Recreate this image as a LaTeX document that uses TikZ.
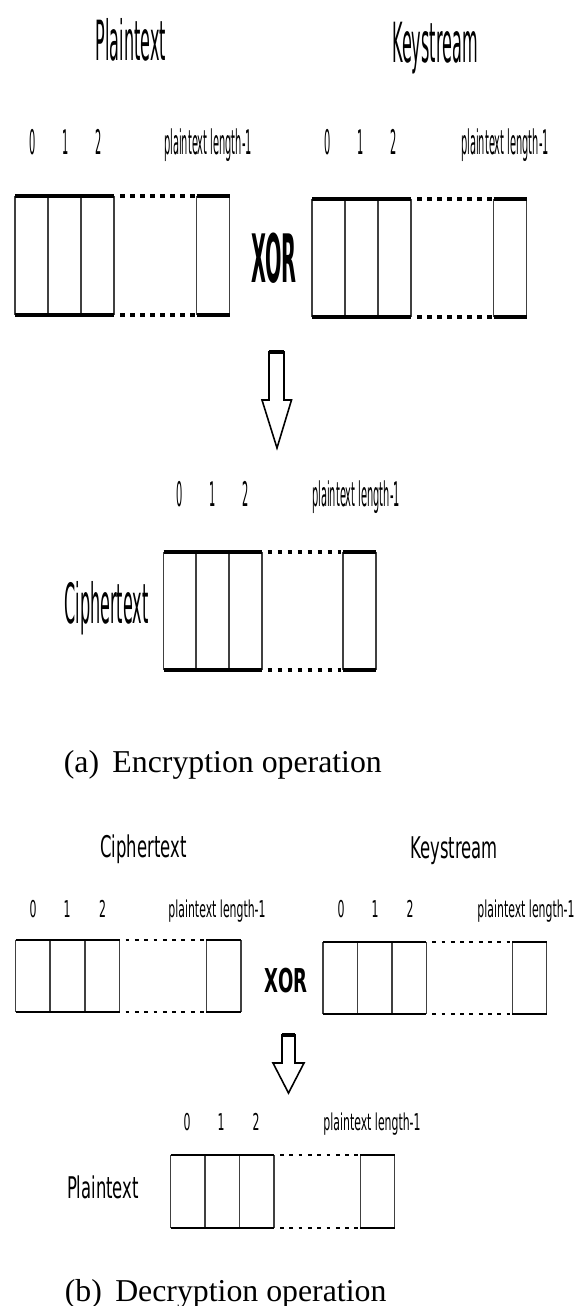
\documentclass[tikz,border=0pt]{standalone}
\usepackage{fontspec}
\newfontfamily\sqA[FakeStretch=0.29]{DejaVu Sans}
\newfontfamily\sqB[FakeStretch=0.55]{DejaVu Sans}
\newfontfamily\sqC[FakeStretch=0.47]{DejaVu Sans}
\newfontfamily\capfont{Liberation Serif}
\usetikzlibrary{positioning}

% #1 left x, #2 top y, #3 cell width, #4 height, #5 A or B (line set)
\newcommand{\bytearray}[5]{%
  \foreach \k in {0,1,2,3,5.5,6.5}
    \draw[cell#5] ({#1+\k*#3},#2) -- ++(0,#4);
  \draw[rim#5] (#1,#2) -- ++({3*#3},0) (#1,{#2+#4}) -- ++({3*#3},0)
    ({#1+5.5*#3},#2) -- ++(#3,0) ({#1+5.5*#3},{#2+#4}) -- ++(#3,0);
  \draw[dot#5] ({#1+3*#3+6},#2) -- ({#1+5.5*#3-2},#2)
    ({#1+3*#3+6},{#2+#4}) -- ({#1+5.5*#3-2},{#2+#4});
}

\begin{document}
\begin{tikzpicture}[
  x=0.02cm, y=-0.02cm,
  ttlA/.style={font=\sqA\fontsize{31.5}{36}\selectfont, inner sep=0pt, anchor=base},
  idxA/.style={font=\sqA\fontsize{19.3}{22}\selectfont, inner sep=0pt, anchor=base},
  xorA/.style={font=\sqA\bfseries\fontsize{38}{42}\selectfont, inner sep=0pt, anchor=base},
  ttlB/.style={font=\sqB\fontsize{17}{20}\selectfont, inner sep=0pt, anchor=base},
  idxB/.style={font=\sqC\fontsize{13.2}{15}\selectfont, inner sep=0pt, anchor=base},
  xorB/.style={font=\sqB\bfseries\fontsize{18.7}{21}\selectfont, inner sep=0pt, anchor=base},
  subcap/.style={font=\capfont\fontsize{18.1}{21}\selectfont, inner sep=0pt, anchor=base west},
  cellA/.style={draw=black!75, line width=1.1pt},
  rimA/.style={line width=2.5pt},
  dotA/.style={line width=2.7pt, dash pattern=on 2.6pt off 3.1pt},
  cellB/.style={draw=black!75, line width=0.8pt},
  rimB/.style={line width=1.5pt},
  dotB/.style={line width=1.6pt, dash pattern=on 2.2pt off 3.1pt},
  blk/.style={draw, line width=0.9pt, line join=miter}
]
\useasboundingbox (0,0) rectangle (576,1306);

% (a) encryption
\node[ttlA] (ptA) at (131,60) {Plaintext};
\node[ttlA] (ksA) at (435,62) {Keystream};
\foreach \t/\x in {0/32.5,1/66,2/99}
  \node[idxA] (pa\t) at (\x,154) {\t};
\node[idxA] (paEnd) at (208,154) {plaintext length-1};
\foreach \t/\x in {0/328,1/361,2/394}
  \node[idxA] (ka\t) at (\x,154) {\t};
\node[idxA] (kaEnd) at (505,154) {plaintext length-1};
\bytearray{15}{196}{33}{119}{A}
\bytearray{312}{199}{33}{118}{A}
\node[xorA] (xorA) at (274,282) {XOR};
\draw[blk] (269,352) -- (269,400) -- (262,400) -- (277,448) -- (291.5,400)
  -- (284,400) -- (284,352) -- cycle;
\draw[line width=2.3pt] (269,352) -- (284,352);
\foreach \t/\x in {0/180,1/213,2/246}
  \node[idxA] (ca\t) at (\x,506) {\t};
\node[idxA] (caEnd) at (356,506) {plaintext length-1};
\node[ttlA] (ctA) at (106.5,623) {Ciphertext};
\bytearray{163.5}{552}{32.7}{118}{A}
\node[subcap] (capA) at (63.5,772) {(a)\hspace{0.42em}Encryption operation};

% (b) decryption
\node[ttlB] (ctB) at (143.5,857) {Ciphertext};
\node[ttlB] (ksB) at (454,858) {Keystream};
\foreach \t/\x in {0/33,1/67,2/102.5}
  \node[idxB] (cb\t) at (\x,917) {\t};
\node[idxB] (cbEnd) at (217,917) {plaintext length-1};
\foreach \t/\x in {0/341,1/375,2/410}
  \node[idxB] (kb\t) at (\x,917) {\t};
\node[idxB] (kbEnd) at (526,917) {plaintext length-1};
\bytearray{15.5}{940}{34.7}{72}{B}
\bytearray{323}{942}{34.4}{72}{B}
\node[xorB] (xorB) at (286,992) {XOR};
\draw[blk] (282,1035) -- (282,1063) -- (273,1063) -- (288.5,1093) -- (304,1063)
  -- (295,1063) -- (295,1035) -- cycle;
\draw[line width=2pt] (282,1035) -- (295,1035);
\foreach \t/\x in {0/187,1/221,2/256}
  \node[idxB] (pb\t) at (\x,1130) {\t};
\node[idxB] (pbEnd) at (372,1130) {plaintext length-1};
\node[ttlB] (ptB) at (103,1198) {Plaintext};
\bytearray{170.5}{1155}{34.5}{73}{B}
\node[subcap] (capB) at (64.5,1301) {(b)\hspace{0.42em}Decryption operation};
\end{tikzpicture}
\end{document}
